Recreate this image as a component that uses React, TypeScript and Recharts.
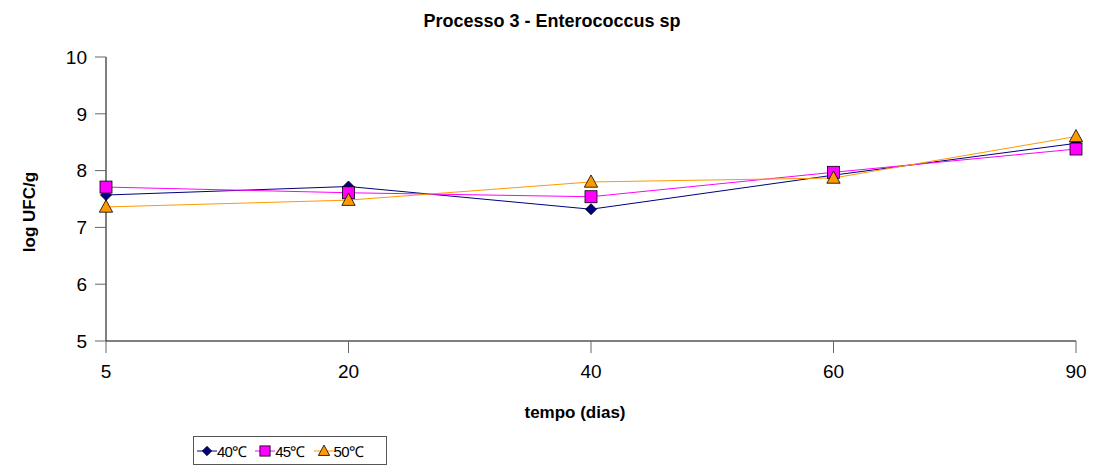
import { Line, LineChart, XAxis, YAxis } from "recharts";

const days = ["5", "20", "40", "60", "90"];
const temp40 = [7.57, 7.72, 7.32, 7.92, 8.48];
const temp45 = [7.71, 7.61, 7.54, 7.97, 8.38];
const temp50 = [7.36, 7.48, 7.8, 7.87, 8.6];
const yTicks = [5, 6, 7, 8, 9, 10];

const series = [
  { key: "t40", name: "40℃", color: "#000080", fill: "#000080", shape: "diamond" },
  { key: "t45", name: "45℃", color: "#FF00FF", fill: "#FF00FF", shape: "square" },
  { key: "t50", name: "50℃", color: "#FF9900", fill: "#FF9900", shape: "triangle" },
];

const chartData = days.map((d, i) => ({
  day: d,
  t40: temp40[i],
  t45: temp45[i],
  t50: temp50[i],
}));

const font = "Arial, 'Liberation Sans', sans-serif";

function Marker({ cx, cy, shape, fill, size = 1 }: { cx: number; cy: number; shape: string; fill: string; size?: number }) {
  if (shape === "diamond") {
    const r = 5.5 * size;
    return <polygon points={`${cx},${cy - r} ${cx + r},${cy} ${cx},${cy + r} ${cx - r},${cy}`} fill={fill} stroke="#000" strokeWidth={0.8} />;
  }
  if (shape === "square") {
    const r = 6 * size;
    return <rect x={cx - r} y={cy - r} width={2 * r} height={2 * r} fill={fill} stroke="#000" strokeWidth={0.8} />;
  }
  const r = 7 * size;
  return <polygon points={`${cx},${cy - r} ${cx + r * 0.95},${cy + r * 0.75} ${cx - r * 0.95},${cy + r * 0.75}`} fill={fill} stroke="#000" strokeWidth={0.8} />;
}

function LegendBox() {
  return (
    <div
      style={{
        position: "absolute",
        left: 193,
        top: 436,
        border: "1px solid #555",
        width: 194,
        height: 29,
        display: "flex",
        alignItems: "center",
        paddingLeft: 3,
        boxSizing: "border-box",
        fontFamily: font,
        fontSize: 15,
        color: "#000",
      }}
    >
      {series.map((s) => (
        <div key={s.key} style={{ display: "flex", alignItems: "center", marginRight: 9 }}>
          <svg width={20} height={14}>
            <line x1={0} y1={7} x2={20} y2={7} stroke={s.color} strokeWidth={1} />
            <Marker cx={10} cy={7} shape={s.shape} fill={s.fill} size={0.85} />
          </svg>
          <span style={{ letterSpacing: -0.8 }}>{s.name}</span>
        </div>
      ))}
    </div>
  );
}

export default function App() {
  const labelStyle = { position: "absolute" as const, fontFamily: font, fontWeight: "bold" as const, fontSize: 17, whiteSpace: "nowrap" as const };
  return (
    <div style={{ position: "absolute", left: 0, top: 0, width: 1093, height: 466, background: "#fff" }}>
      <div style={{ ...labelStyle, top: 11, left: 0, width: 1104, textAlign: "center", fontSize: 18 }}>
        Processo 3 - Enterococcus sp
      </div>
      <div style={{ ...labelStyle, left: 30, top: 212, transform: "translate(-50%, -50%) rotate(-90deg)" }}>
        log UFC/g
      </div>
      <div style={{ ...labelStyle, left: 90, top: 403, width: 970, textAlign: "center" }}>
        tempo (dias)
      </div>
      <LineChart width={1093} height={466} data={chartData} margin={{ top: 57, right: 17, left: 46, bottom: 85 }}>
        <XAxis
          dataKey="day"
          padding={{ left: 0, right: 0 }}
          height={40}
          axisLine={{ stroke: "#000" }}
          tickLine={{ stroke: "#666" }}
          tickSize={12}
          tickMargin={12}
          tick={{ fill: "#000", fontSize: 19, fontFamily: font }}
          interval={0}
        />
        <YAxis
          domain={[5, 10]}
          ticks={yTicks}
          width={60}
          axisLine={{ stroke: "#000" }}
          tickLine={{ stroke: "#666" }}
          tickSize={11}
          tickMargin={8}
          tick={{ fill: "#000", fontSize: 19, fontFamily: font }}
          allowDataOverflow
        />
        {series.map((s) => (
          <Line
            key={s.key}
            dataKey={s.key}
            name={s.name}
            type="linear"
            stroke={s.color}
            strokeWidth={1}
            isAnimationActive={false}
            activeDot={false}
            dot={(p: any) => <Marker key={`${s.key}-${p.index}`} cx={p.cx} cy={p.cy} shape={s.shape} fill={s.fill} />}
          />
        ))}
      </LineChart>
      <LegendBox />
    </div>
  );
}
